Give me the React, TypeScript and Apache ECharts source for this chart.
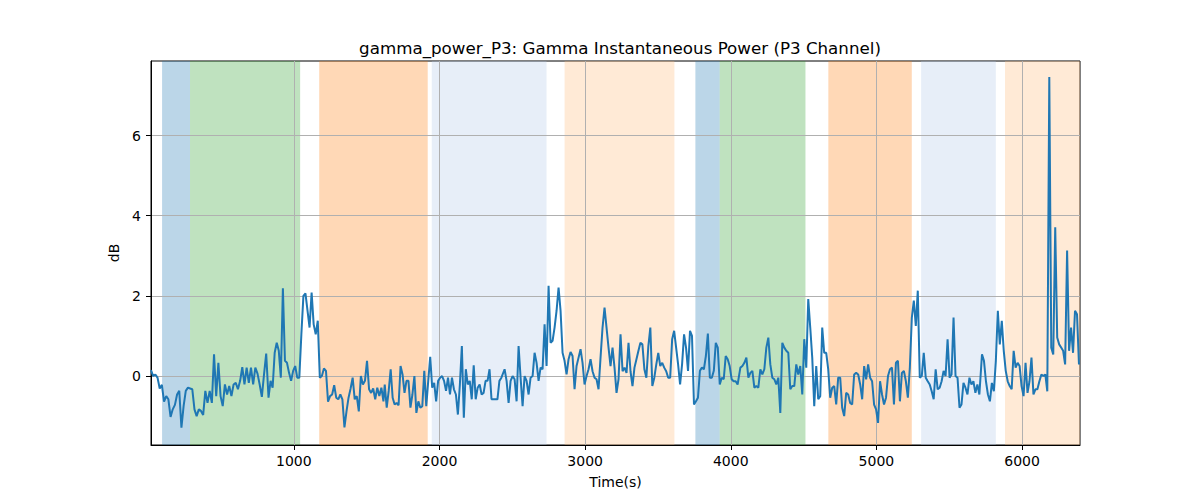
import React, { useEffect, useRef } from "react";
import * as echarts from "echarts";

const titleText = "gamma_power_P3: Gamma Instantaneous Power (P3 Channel)";
const xLabel = "Time(s)";
const yLabel = "dB";

const xTicks = [1000, 2000, 3000, 4000, 5000, 6000];
const yTicks = [0, 2, 4, 6];

// Shaded intervals (seconds)
const spanStarts = [95, 287, 1174, 1947, 2859, 3757, 3924, 4670, 5307, 5883];
const spanEnds = [287, 1043, 1919, 2735, 3613, 3924, 4513, 5243, 5820, 6400];
const spanColors = [
  "#1f77b4", "#2ca02c", "#ff7f0e", "#aec7e8", "#ffbb78",
  "#1f77b4", "#2ca02c", "#ff7f0e", "#aec7e8", "#ffbb78",
];

// Signal, in chunks with start/end times
const chunkStarts = [19, 826, 1624, 2447, 3257, 4066, 4875, 5725];
const chunkEnds = [810, 1615, 2425, 3243, 4047, 4861, 5707, 6391];

const chunk0 = [0.15, 0, 0.04, -0.04, -0.31, -0.22, -0.64, -0.5, -0.58, -1.02, -0.83, -0.72, -0.46, -0.37, -1.29, -0.75, -0.37, -0.29, -0.31, -0.33, -0.83, -1.0, -0.83, -0.87, -0.97, -0.37, -0.67, -0.37, -0.67, 0.54, -0.5, 0.33, -0.5, -0.75, -0.21, -0.46, -0.25, -0.5, -0.21, -0.17, -0.33, -0.12, 0.22, -0.21, 0.21, -0.17, 0.21, -0.21, 0.21, 0.06, -0.21, -0.52, 0.04, 0.56];
const chunk1 = [-0.54, -0.12, -0.29, 0.58, 0.83, 0.63, -0.04, 2.19, 0.38, 0.33, 0.08, -0.12, 0.13, 0.25, -0.04, -0.04, 1.04, 2.0, 2.06, 1.63, 1.21, 2.08, 1.29, 1.04, 1.38, -0.04, 0.0, 0.19, 0.13, -0.64, -0.5, -0.46, -0.23, -0.54, -0.58, -0.46, -0.58, -1.28, -0.88, -0.54, -0.31, -0.04, -0.58, -0.5, -0.88, 0.0, -0.21, -0.12, 0.38, -0.33, -0.42, -0.31, -0.58, -0.29, -0.5, -0.29, -0.63];
const chunk2 = [-0.21, -0.79, -0.37, 0.17, -0.54, -0.71, -0.67, -0.73, 0.25, 0.04, -0.42, -0.12, -0.12, -0.79, -0.46, 0.0, -0.92, -0.63, -0.79, -0.75, 0.13, -0.75, -0.12, 0.48, -0.29, -0.17, -0.63, -0.12, -0.04, 0.0, -0.12, -0.37, -0.04, -0.46, -0.04, -0.33, -0.46, -0.96, -0.21, 0.75, -1.04, 0.17, -0.21, -0.12, -0.58, 0.27, -0.58, -0.29, -0.21, -0.46, -0.42, -0.12, -0.12, 0.17, -0.58, -0.58, -0.58, -0.58, -0.12, -0.04];
const chunk3 = [0.17, -0.12, -0.67, -0.12, 0.0, -0.08, -0.63, 0.75, -0.04, -0.75, 0.0, -0.12, -0.46, -0.04, 0.0, 0.58, 0.33, -0.12, 0.21, 0.17, 1.29, 0.25, 2.25, 0.83, 0.88, 1.21, 1.63, 2.21, 1.63, 0.58, 0.38, 0.04, 0.42, 0.6, 0.5, -0.33, 0.25, 0.46, 0.67, 0.33, -0.21, 0.0, 0.17, 0.42, 0.12, -0.04, -0.08, -0.33, 0.46, 1.21, 1.71, 1.21, 0.71, 0.25, 0.71, 0.21, -0.42, -0.08, 1.04];
const chunk4 = [0.12, 0.21, 0.08, 0.83, 0.12, -0.25, 0.21, 0.42, 0.63, 0.83, 0.79, 0.17, -0.04, 0.75, 1.21, -0.25, -0.04, 0.29, 0.58, 0.25, 0.33, 0.21, 0.12, -0.04, -0.04, 0.92, 1.13, 0.71, 0.29, -0.21, 0.29, 1.04, 0.71, 0.13, 1.13, 1.0, -0.71, -0.63, -0.54, 0.13, 0.21, 0.17, 0.5, 1.06, -0.04, -0.04, 0.13, 0.83, 0.71, -0.21, -0.04, -0.08, 0.5, 0.42, 0.25, -0.08, -0.13, -0.13, -0.21];
const chunk5 = [0.21, 0.25, 0.33, 0.46, -0.04, 0.08, 0.13, -0.29, -0.25, -0.29, 0.17, 0.04, 0.17, 0.71, 0.96, 0.29, -0.04, -0.08, -0.21, -0.04, -0.92, 0.83, 0.71, 0.63, 0.58, -0.33, -0.25, -0.25, 0.29, 0.04, 0.25, -0.46, 0.92, 0.21, 1.92, 1.21, 0.46, -0.75, 0.25, -0.58, -0.5, 1.21, 0.58, 0.58, 0.17, -0.54, -0.29, -0.25, -0.71, -0.04, -0.04, -0.79, -1.0, -0.42, -0.46, -0.67, -0.71, 0.04, 0.08];
const chunk6 = [0.04, -0.21, -0.58, 0.25, -0.08, 0.29, -0.04, -0.13, -0.71, -0.83, -1.17, -0.13, -0.46, -0.71, -0.54, 0.0, 0.17, 0.21, -0.71, 0.33, 0.38, -0.63, 0.08, 0.13, -0.13, -0.54, 0.21, 1.46, 1.88, 1.25, 2.13, -0.04, 0.0, 0.58, -0.04, -0.13, -0.21, -0.38, -0.58, 0.17, -0.33, -0.29, -0.13, 0.13, 0.0, 0.92, -0.04, 0.04, 1.46, 0.0, -0.04, -0.79, -0.71, -0.17, -0.29, -0.46, -0.04, -0.21, -0.13, -0.42, -0.21, -0.46];
const chunk7 = [0.54, 0.38, -0.13, -0.46, -0.63, -0.17, -0.38, 0.38, 1.63, 0.79, 1.38, 0.63, 0.13, -0.13, -0.25, -0.33, 0.63, 0.21, 0.33, 0.25, -0.25, -0.5, 0.33, -0.42, -0.13, 0.46, -0.46, -0.33, -0.33, -0.13, 0.04, 0.0, 0.04, -0.38, 7.46, 0.71, 0.54, 3.71, 0.96, 0.79, 0.71, 0.63, 0.29, 3.13, 0.63, 1.21, 0.58, 1.63, 1.54, 0.29];

const chunks = [chunk0, chunk1, chunk2, chunk3, chunk4, chunk5, chunk6, chunk7];

const FONT = "DejaVu Sans";

function buildSeriesData(): [number, number][] {
  const out: [number, number][] = [];
  chunks.forEach((vals, k) => {
    const s = chunkStarts[k];
    const e = chunkEnds[k];
    const n = vals.length;
    vals.forEach((v, j) => {
      out.push([s + (j * (e - s)) / (n - 1), v]);
    });
  });
  return out;
}

export default function App() {
  const ref = useRef<HTMLDivElement>(null);

  useEffect(() => {
    if (!ref.current) return;
    const chart = echarts.init(ref.current, undefined, { renderer: "svg" });
    const areas = spanStarts.map((s, i) => [
      { xAxis: s, itemStyle: { color: spanColors[i], opacity: 0.3 } },
      { xAxis: spanEnds[i] },
    ]);
    chart.setOption({
      animation: false,
      backgroundColor: "#ffffff",
      textStyle: { fontFamily: FONT },
      title: {
        text: titleText,
        left: 615,
        top: 34,
        textAlign: "center",
        textStyle: { fontFamily: FONT, fontSize: 16.7, fontWeight: "normal", color: "#000" },
      },
      grid: {
        left: 151,
        top: 61,
        width: 929,
        height: 384,
        show: true,
        borderColor: "#000",
        borderWidth: 1,
        backgroundColor: "transparent",
      },
      xAxis: {
        type: "value",
        min: 19,
        max: 6398,
        name: xLabel,
        nameLocation: "middle",
        nameGap: 30,
        nameTextStyle: { fontFamily: FONT, fontSize: 14, color: "#000" },
        axisLine: { show: true, onZero: false, lineStyle: { color: "#000", width: 1 } },
        axisTick: { show: true, length: 5, customValues: xTicks, lineStyle: { color: "#000" } },
        axisLabel: {
          customValues: xTicks,
          margin: 9,
          fontFamily: FONT,
          fontSize: 14,
          color: "#000",
          formatter: (v: number) => String(v),
        },
        splitLine: { show: true, lineStyle: { color: "#b0b0b0", width: 1 } },
        z: 5,
      },
      yAxis: {
        type: "value",
        min: -1.72,
        max: 7.86,
        name: yLabel,
        nameLocation: "middle",
        nameGap: 23,
        nameTextStyle: { fontFamily: FONT, fontSize: 14, color: "#000" },
        axisLine: { show: true, onZero: false, lineStyle: { color: "#000", width: 1 } },
        axisTick: { show: true, length: 5, customValues: yTicks, lineStyle: { color: "#000" } },
        axisLabel: {
          customValues: yTicks,
          margin: 10,
          fontFamily: FONT,
          fontSize: 14,
          color: "#000",
          formatter: (v: number) => String(v),
        },
        splitLine: { show: true, lineStyle: { color: "#b0b0b0", width: 1 } },
        z: 5,
      },
      series: [
        {
          type: "line",
          name: "spans",
          data: [],
          symbol: "none",
          markArea: { silent: true, z: 1, data: areas },
          z: 1,
        },
        {
          type: "line",
          name: "power",
          data: buildSeriesData(),
          showSymbol: false,
          symbol: "none",
          lineStyle: { color: "#1f77b4", width: 2 },
          itemStyle: { color: "#1f77b4" },
          z: 10,
        },
      ],
    });
    return () => chart.dispose();
  }, []);

  return (
    <div
      ref={ref}
      style={{ position: "fixed", left: 0, top: 0, width: 1200, height: 500, background: "#fff" }}
    />
  );
}
